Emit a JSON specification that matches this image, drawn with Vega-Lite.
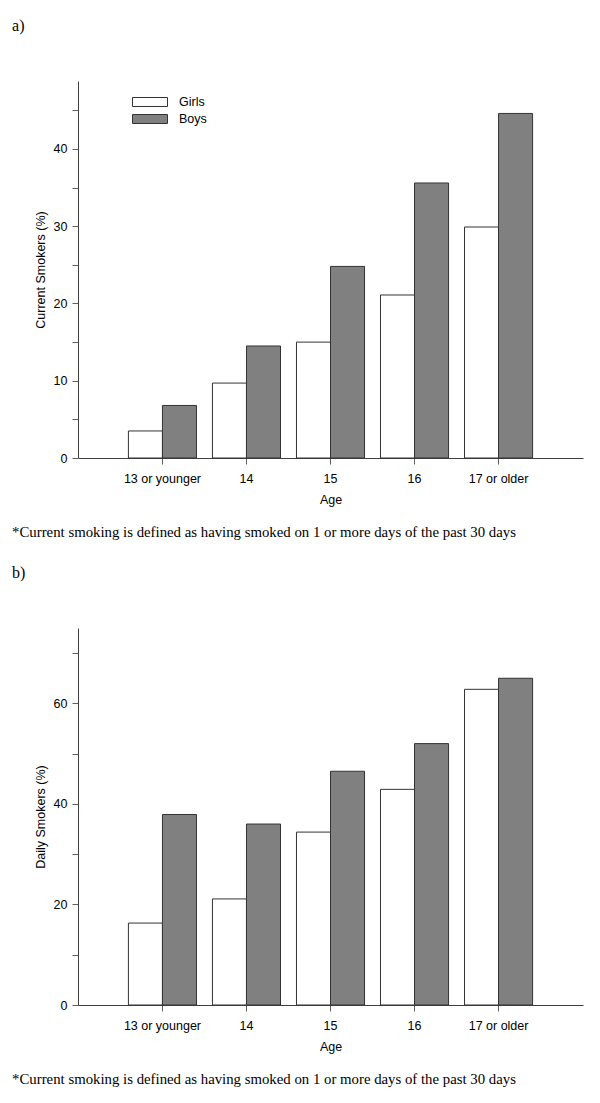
{
  "$schema": "https://vega.github.io/schema/vega-lite/v6.json",
  "padding": {"left": 12, "top": 18, "right": 5, "bottom": 5},
  "background": "white",
  "config": {
    "view": {"stroke": null},
    "font": "Liberation Sans",
    "axis": {
      "labelFont": "Liberation Sans", "labelFontSize": 12.5, "labelColor": "#000000",
      "titleFont": "Liberation Sans", "titleFontSize": 12.5, "titleFontWeight": "normal", "titleColor": "#000000",
      "domainColor": "#404040", "tickColor": "#606060", "tickSize": 6, "grid": false, "labelOverlap": false
    },
    "axisY": {"labelPadding": 5, "titlePadding": 6, "labelFlush": false},
    "axisX": {"labelPadding": 8, "titlePadding": 9, "labelAngle": 0},
    "title": {"font": "Liberation Serif", "fontWeight": "normal", "color": "#000000"},
    "legend": {
      "labelFont": "Liberation Sans", "labelFontSize": 12.5, "labelColor": "#000000",
      "symbolType": "M-1,-0.257H1V0.257H-1Z", "symbolSize": 1225,
      "symbolStrokeColor": "#333333", "symbolStrokeWidth": 1,
      "labelOffset": 11, "rowPadding": 4, "clipHeight": 12, "padding": 0
    }
  },
  "datasets": {
    "current": [
      {"Age": "13 or younger", "Sex": "Girls", "Pct": 3.5},
      {"Age": "13 or younger", "Sex": "Boys", "Pct": 6.8},
      {"Age": "14", "Sex": "Girls", "Pct": 9.7},
      {"Age": "14", "Sex": "Boys", "Pct": 14.5},
      {"Age": "15", "Sex": "Girls", "Pct": 15.0},
      {"Age": "15", "Sex": "Boys", "Pct": 24.8},
      {"Age": "16", "Sex": "Girls", "Pct": 21.1},
      {"Age": "16", "Sex": "Boys", "Pct": 35.6},
      {"Age": "17 or older", "Sex": "Girls", "Pct": 29.9},
      {"Age": "17 or older", "Sex": "Boys", "Pct": 44.6}
    ],
    "daily": [
      {"Age": "13 or younger", "Sex": "Girls", "Pct": 16.3},
      {"Age": "13 or younger", "Sex": "Boys", "Pct": 37.9},
      {"Age": "14", "Sex": "Girls", "Pct": 21.1},
      {"Age": "14", "Sex": "Boys", "Pct": 36.0},
      {"Age": "15", "Sex": "Girls", "Pct": 34.4},
      {"Age": "15", "Sex": "Boys", "Pct": 46.5},
      {"Age": "16", "Sex": "Girls", "Pct": 42.9},
      {"Age": "16", "Sex": "Boys", "Pct": 52.0},
      {"Age": "17 or older", "Sex": "Girls", "Pct": 62.8},
      {"Age": "17 or older", "Sex": "Boys", "Pct": 65.0}
    ]
  },
  "spacing": 25,
  "vconcat": [
    {
      "title": {"text": "*Current smoking is defined as having smoked on 1 or more days of the past 30 days", "orient": "bottom", "anchor": "start", "offset": 19, "fontSize": 14.8, "baseline": "top"},
      "vconcat": [
        {
          "title": {"text": "a)", "anchor": "start", "dx": -22, "offset": 31, "fontSize": 16, "baseline": "bottom"},
          "width": 505,
          "height": 377,
          "data": {"name": "current"},
          "mark": {"type": "bar", "stroke": "#333333", "strokeWidth": 1},
          "encoding": {
            "x": {"field": "Age", "type": "nominal", "sort": ["13 or younger", "14", "15", "16", "17 or older"],
                  "scale": {"paddingInner": 0.19, "paddingOuter": 0.6}, "axis": {"title": "Age"}},
            "xOffset": {"field": "Sex", "type": "nominal", "scale": {"domain": ["Girls", "Boys"], "paddingInner": 0, "paddingOuter": 0}},
            "y": {"field": "Pct", "type": "quantitative", "scale": {"domain": [0, 48.8], "nice": false},
                  "axis": {"title": "Current Smokers (%)", "values": [0, 5, 10, 15, 20, 25, 30, 35, 40, 45],
                           "labelExpr": "datum.value % 10 === 0 ? datum.label : ''"}},
            "color": {"field": "Sex", "type": "nominal", "scale": {"domain": ["Girls", "Boys"], "range": ["#ffffff", "#808080"]},
                      "legend": {"title": null, "orient": "none", "legendX": 54, "legendY": 15}}
          }
        }
      ]
    },
    {
      "title": {"text": "*Current smoking is defined as having smoked on 1 or more days of the past 30 days", "orient": "bottom", "anchor": "start", "offset": 19, "fontSize": 14.8, "baseline": "top"},
      "vconcat": [
        {
          "title": {"text": "b)", "anchor": "start", "dx": -22, "offset": 31, "fontSize": 16, "baseline": "bottom"},
          "width": 505,
          "height": 377,
          "data": {"name": "daily"},
          "mark": {"type": "bar", "stroke": "#333333", "strokeWidth": 1},
          "encoding": {
            "x": {"field": "Age", "type": "nominal", "sort": ["13 or younger", "14", "15", "16", "17 or older"],
                  "scale": {"paddingInner": 0.19, "paddingOuter": 0.6}, "axis": {"title": "Age"}},
            "xOffset": {"field": "Sex", "type": "nominal", "scale": {"domain": ["Girls", "Boys"], "paddingInner": 0, "paddingOuter": 0}},
            "y": {"field": "Pct", "type": "quantitative", "scale": {"domain": [0, 75], "nice": false},
                  "axis": {"title": "Daily Smokers (%)", "values": [0, 10, 20, 30, 40, 50, 60, 70],
                           "labelExpr": "datum.value % 20 === 0 ? datum.label : ''"}},
            "color": {"field": "Sex", "type": "nominal", "scale": {"domain": ["Girls", "Boys"], "range": ["#ffffff", "#808080"]},
                      "legend": {"title": null, "orient": "none", "legendX": 54, "legendY": 15}}
          }
        }
      ]
    }
  ]
}
